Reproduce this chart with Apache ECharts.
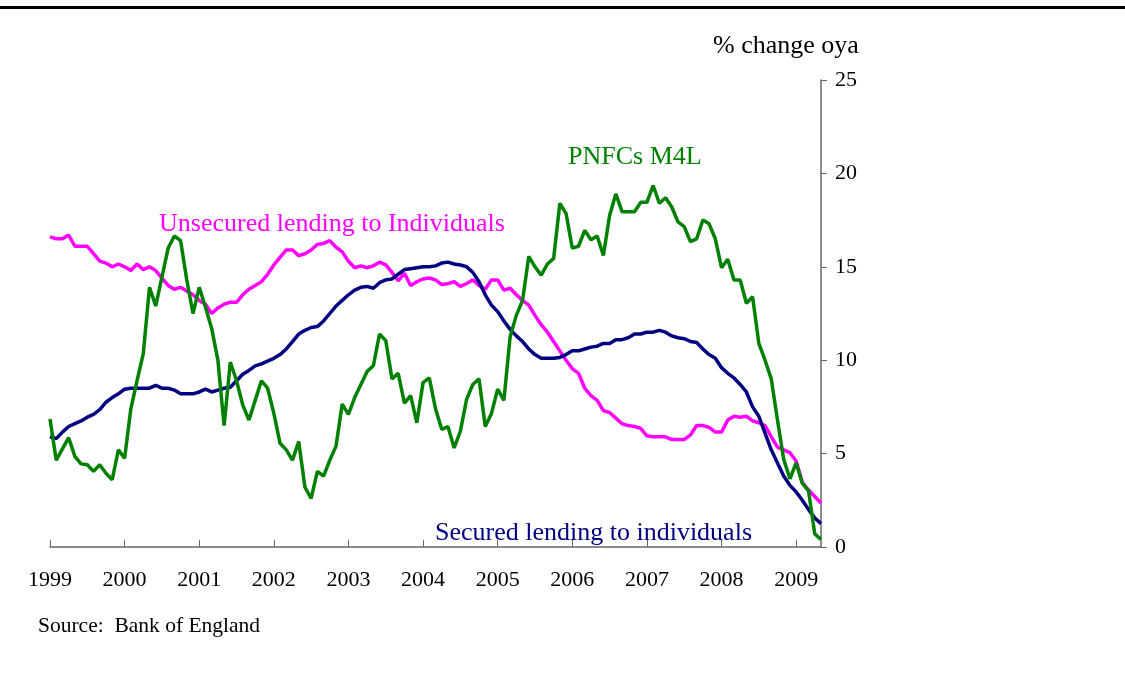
<!DOCTYPE html>
<html>
<head>
<meta charset="utf-8">
<script src="https://cdn.jsdelivr.net/npm/echarts@6/dist/echarts.min.js"></script>
<style>
  html, body { margin: 0; padding: 0; background: #fff; }
  #chart { width: 1125px; height: 697px; }
</style>
</head>
<body>
<div id="chart"></div>
<script>
// monthly, Jan 1999 - May 2009
const years = [1999, 2000, 2001, 2002, 2003, 2004, 2005, 2006, 2007, 2008, 2009];
const lastMonth = 5;

const unsecured = [
  16.6, 16.5, 16.5, 16.7, 16.1, 16.1, 16.1, 15.7, 15.3, 15.2, 15.0, 15.15,
  15.0, 14.8, 15.15, 14.85, 15.0, 14.8, 14.4, 14.0, 13.8, 13.9, 13.7, 13.5,
  13.2, 13.0, 12.5, 12.8, 13.0, 13.1, 13.1, 13.5, 13.8, 14.0, 14.2, 14.6,
  15.1, 15.5, 15.9, 15.9, 15.6, 15.7, 15.9, 16.2, 16.25, 16.4, 16.05, 15.8,
  15.3, 14.95, 15.05, 14.95, 15.05, 15.25, 15.1, 14.7, 14.25, 14.65, 14.0, 14.2,
  14.35, 14.4, 14.3, 14.05, 14.1, 14.2, 13.95, 14.1, 14.3, 14.0, 13.8, 14.3,
  14.3, 13.75, 13.85, 13.5, 13.2, 12.95, 12.4, 11.9, 11.5, 11.0, 10.5, 10.0,
  9.55, 9.3, 8.5, 8.1, 7.85, 7.3, 7.2, 6.9, 6.6, 6.5, 6.45, 6.35,
  5.95, 5.9, 5.9, 5.9, 5.75, 5.75, 5.75, 6.0, 6.5, 6.5, 6.4, 6.15,
  6.15, 6.8, 7.0, 6.95, 7.0, 6.75, 6.65, 6.5, 5.9, 5.35, 5.2, 5.05,
  4.6, 3.45, 3.05, 2.7, 2.35
];

const secured = [
  5.9, 5.8, 6.15, 6.45, 6.6, 6.75, 6.95, 7.1, 7.35, 7.75, 8.0, 8.2,
  8.45, 8.5, 8.5, 8.5, 8.5, 8.65, 8.5, 8.5, 8.4, 8.2, 8.2, 8.2,
  8.3, 8.45, 8.3, 8.4, 8.5, 8.55, 8.9, 9.25, 9.45, 9.7, 9.8, 9.95,
  10.1, 10.3, 10.6, 11.0, 11.4, 11.6, 11.75, 11.8, 12.1, 12.5, 12.9, 13.2,
  13.5, 13.75, 13.9, 13.95, 13.85, 14.15, 14.3, 14.35, 14.6, 14.85, 14.9, 14.95,
  15.0, 15.0, 15.05, 15.2, 15.25, 15.15, 15.1, 15.0, 14.7, 14.2, 13.5, 12.95,
  12.6, 12.1, 11.65, 11.3, 11.0, 10.6, 10.3, 10.1, 10.1, 10.1, 10.15, 10.3,
  10.5, 10.5, 10.6, 10.7, 10.75, 10.9, 10.9, 11.1, 11.1, 11.2, 11.4, 11.4,
  11.5, 11.5, 11.6, 11.5, 11.3, 11.2, 11.15, 11.0, 10.95, 10.6, 10.3, 10.1,
  9.6, 9.3, 9.05, 8.7, 8.3, 7.5, 7.0, 6.1, 5.2, 4.5, 3.8, 3.3,
  2.95, 2.5, 2.0, 1.55, 1.25
];

const pnfc = [
  6.85, 4.65, 5.25, 5.85, 4.85, 4.45, 4.4, 4.05, 4.4, 3.95, 3.6, 5.2,
  4.75, 7.4, 8.9, 10.35, 13.9, 12.9, 14.45, 16.0, 16.65, 16.4, 14.3, 12.5,
  13.9, 12.85, 11.7, 10.0, 6.5, 9.9, 8.9, 7.6, 6.8, 7.85, 8.9, 8.5,
  7.15, 5.55, 5.2, 4.65, 5.65, 3.2, 2.6, 4.05, 3.8, 4.65, 5.4, 7.65,
  7.1, 8.0, 8.7, 9.4, 9.7, 11.4, 11.05, 9.0, 9.3, 7.7, 8.1, 6.65,
  8.8, 9.05, 7.4, 6.3, 6.45, 5.3, 6.2, 7.9, 8.7, 9.0, 6.45, 7.15,
  8.45, 7.85, 11.25, 12.4, 13.2, 15.55, 15.0, 14.55, 15.15, 15.45, 18.4, 17.85,
  16.0, 16.1, 16.95, 16.45, 16.65, 15.6, 17.75, 18.9, 17.95, 17.95, 17.95, 18.45,
  18.45, 19.35, 18.4, 18.7, 18.2, 17.4, 17.15, 16.35, 16.5, 17.5, 17.3, 16.5,
  14.95, 15.4, 14.3, 14.3, 13.05, 13.4, 10.9, 10.0, 9.0, 6.8, 4.7, 3.65,
  4.5, 3.4, 3.0, 0.7, 0.4
];

const yTicks = [0, 5, 10, 15, 20, 25];

const months = [];
years.forEach(function (y) {
  for (let m = 1; m <= 12; m++) {
    if (y === years[years.length - 1] && m > lastMonth) break;
    months.push(y + '-' + (m < 10 ? '0' + m : m));
  }
});

const font = '"Liberation Serif", "Times New Roman", serif';
const axisGrey = '#666666';

const chart = echarts.init(document.getElementById('chart'));
chart.setOption({
  backgroundColor: '#ffffff',
  animation: false,
  grid: { left: 50, right: 304, top: 80, bottom: 150 },
  xAxis: {
    type: 'category',
    data: months,
    boundaryGap: false,
    axisLine: { lineStyle: { color: axisGrey, width: 1.5 } },
    axisTick: { inside: true, length: 7, interval: 11, lineStyle: { color: axisGrey } },
    axisLabel: {
      interval: 11,
      margin: 22,
      color: '#000',
      fontFamily: font,
      fontSize: 22,
      formatter: function (v) { return v.slice(0, 4); }
    },
    splitLine: { show: false }
  },
  yAxis: {
    type: 'value',
    position: 'right',
    min: yTicks[0],
    max: yTicks[yTicks.length - 1],
    interval: 5,
    axisLine: { show: true, lineStyle: { color: axisGrey, width: 1.5 } },
    axisTick: { show: true, inside: false, length: 6, lineStyle: { color: axisGrey } },
    axisLabel: { margin: 14, color: '#000', fontFamily: font, fontSize: 22 },
    splitLine: { show: false }
  },
  series: [
    {
      name: 'Unsecured lending to Individuals',
      type: 'line',
      data: unsecured,
      showSymbol: false,
      lineStyle: { color: '#ff00ff', width: 3.5 },
      itemStyle: { color: '#ff00ff' }
    },
    {
      name: 'Secured lending to individuals',
      type: 'line',
      data: secured,
      showSymbol: false,
      lineStyle: { color: '#000080', width: 3.5 },
      itemStyle: { color: '#000080' }
    },
    {
      name: 'PNFCs M4L',
      type: 'line',
      data: pnfc,
      showSymbol: false,
      lineStyle: { color: '#008000', width: 3.5 },
      itemStyle: { color: '#008000' }
    }
  ],
  graphic: [
    { type: 'rect', left: 0, top: 6, shape: { width: 1125, height: 3 }, style: { fill: '#000' } },
    { type: 'text', left: 713, top: 33, style: { text: '% change oya', font: '26px ' + font, fill: '#000' } },
    { type: 'text', left: 159, top: 211, style: { text: 'Unsecured lending to Individuals', font: '26px ' + font, fill: '#ff00ff' } },
    { type: 'text', left: 568, top: 144, style: { text: 'PNFCs M4L', font: '26px ' + font, fill: '#008000' } },
    { type: 'text', left: 435, top: 520, style: { text: 'Secured lending to individuals', font: '26px ' + font, fill: '#000080' } },
    { type: 'text', left: 38, top: 615, style: { text: 'Source:  Bank of England', font: '21.5px ' + font, fill: '#000' } }
  ]
});
</script>
</body>
</html>
